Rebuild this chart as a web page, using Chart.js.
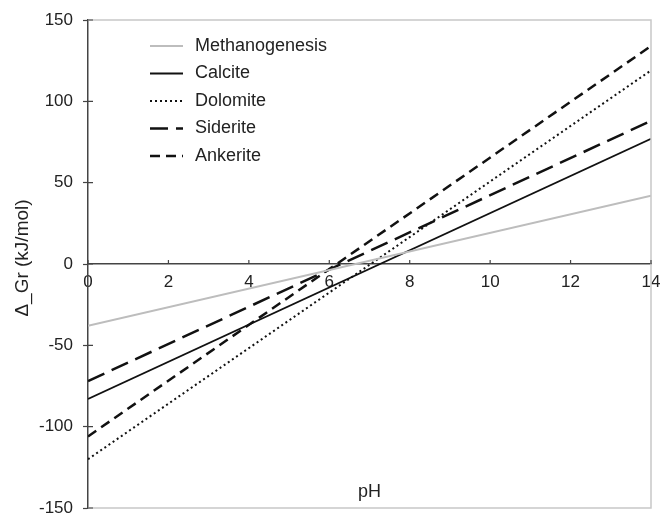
<!DOCTYPE html>
<html lang="en">
<head>
  <meta charset="UTF-8" />
  <title>Delta Gr vs pH</title>
  <script src="https://cdn.jsdelivr.net/npm/chart.js"></script>
  <style>
    html, body { margin: 0; padding: 0; background: #fff; }
    #wrap { width: 662px; height: 516px; }
  </style>
</head>
<body>
  <div id="wrap"><canvas id="grChart" width="662" height="516"></canvas></div>
  <script>
    // values
    const phValues = [0, 14];
    const methanogenesis = [-38, 42];
    const calcite = [-83, 77];
    const dolomite = [-120, 119];
    const siderite = [-72, 88];
    const ankerite = [-106, 134];

    const seriesNames = ['Methanogenesis', 'Calcite', 'Dolomite', 'Siderite', 'Ankerite'];
    const xTicks = [0, 2, 4, 6, 8, 10, 12, 14];
    const yTicks = [-150, -100, -50, 0, 50, 100, 150];

    const FONT = 'Liberation Sans, Arial, sans-serif';
    const TEXT = '#222';

    function pts(ys) {
      return phValues.map((x, i) => ({ x: x, y: ys[i] }));
    }

    // gray frame, inner tick marks, axis titles and legend
    const extras = {
      id: 'extras',
      afterDraw(chart) {
        const ctx = chart.ctx;
        const a = chart.chartArea;
        const xs = chart.scales.x, ys = chart.scales.y;
        ctx.save();

        ctx.strokeStyle = '#c8c8c8';
        ctx.lineWidth = 1.5;
        ctx.beginPath();
        ctx.moveTo(a.left, a.top);
        ctx.lineTo(a.right, a.top);
        ctx.lineTo(a.right, a.bottom);
        ctx.lineTo(a.left, a.bottom);
        ctx.stroke();

        ctx.strokeStyle = '#444';
        ctx.lineWidth = 1.2;
        ctx.beginPath();
        yTicks.forEach(v => {
          const py = ys.getPixelForValue(v);
          ctx.moveTo(a.left, py);
          ctx.lineTo(a.left + 5, py);
        });
        const y0 = ys.getPixelForValue(0);
        xTicks.forEach(v => {
          const px = xs.getPixelForValue(v);
          ctx.moveTo(px, y0);
          ctx.lineTo(px, y0 - 4);
        });
        ctx.stroke();

        ctx.fillStyle = TEXT;
        ctx.font = '18px ' + FONT;
        ctx.textAlign = 'center';
        ctx.textBaseline = 'middle';
        ctx.fillText('pH', (a.left + a.right) / 2, 492);

        ctx.save();
        ctx.translate(23, 258);
        ctx.rotate(-Math.PI / 2);
        ctx.font = '19px ' + FONT;
        ctx.fillText('\u0394_Gr (kJ/mol)', 0, 0);
        ctx.restore();

        // legend
        ctx.textAlign = 'left';
        ctx.font = '18px ' + FONT;
        chart.data.datasets.forEach((ds, i) => {
          const ly = 46 + i * 27.5;
          ctx.strokeStyle = ds.borderColor;
          ctx.lineWidth = ds.borderWidth;
          ctx.setLineDash(ds.borderDash || []);
          ctx.beginPath();
          ctx.moveTo(150, ly);
          ctx.lineTo(183, ly);
          ctx.stroke();
          ctx.setLineDash([]);
          ctx.fillStyle = TEXT;
          ctx.fillText(ds.label, 195, ly);
        });

        ctx.restore();
      }
    };

    new Chart(document.getElementById('grChart'), {
      type: 'line',
      data: {
        datasets: [
          { label: seriesNames[0], data: pts(methanogenesis), borderColor: '#bdbdbd', borderWidth: 2, borderDash: [] },
          { label: seriesNames[1], data: pts(calcite), borderColor: '#111', borderWidth: 1.8, borderDash: [] },
          { label: seriesNames[2], data: pts(dolomite), borderColor: '#111', borderWidth: 2, borderDash: [2, 3] },
          { label: seriesNames[3], data: pts(siderite), borderColor: '#111', borderWidth: 2.5, borderDash: [18, 8] },
          { label: seriesNames[4], data: pts(ankerite), borderColor: '#111', borderWidth: 2.5, borderDash: [10, 6] }
        ]
      },
      options: {
        responsive: false,
        animation: false,
        layout: { padding: { top: 20, right: 11, bottom: 8, left: 0 } },
        elements: { point: { radius: 0 }, line: { tension: 0 } },
        plugins: { legend: { display: false }, tooltip: { enabled: false } },
        scales: {
          x: {
            type: 'linear',
            position: { y: 0 },
            min: 0, max: 14,
            afterBuildTicks: s => { s.ticks = xTicks.map(v => ({ value: v })); },
            afterFit: s => { s.paddingLeft = 0; s.paddingRight = 0; },
            ticks: { color: TEXT, font: { family: FONT, size: 17 }, padding: 8, maxRotation: 0 },
            grid: { drawOnChartArea: false, drawTicks: false },
            border: { color: '#444', width: 1.5 }
          },
          y: {
            min: -150, max: 150,
            afterBuildTicks: s => { s.ticks = yTicks.map(v => ({ value: v })); },
            afterFit: s => { s.width = 88; s.paddingTop = 0; s.paddingBottom = 0; },
            ticks: { color: TEXT, font: { family: FONT, size: 17 }, padding: 10 },
            grid: { drawOnChartArea: false, drawTicks: true, tickLength: 5, color: '#444', tickWidth: 1.2 },
            border: { color: '#444', width: 1.5 }
          }
        }
      },
      plugins: [extras]
    });
  </script>
</body>
</html>
